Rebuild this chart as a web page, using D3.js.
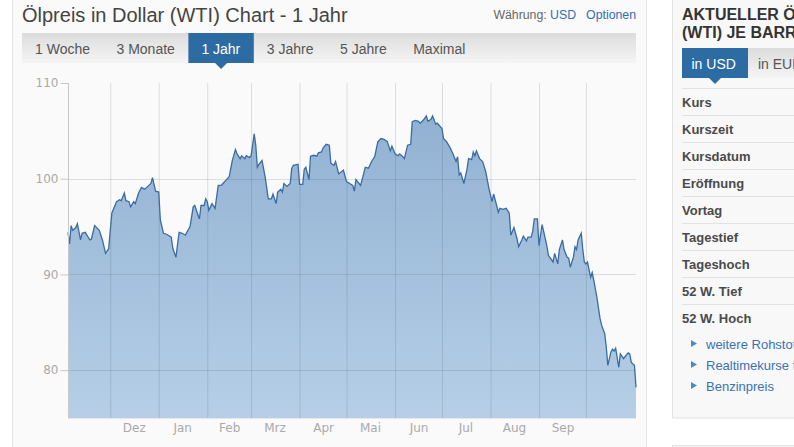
<!DOCTYPE html>
<html><head><meta charset="utf-8">
<script src="https://cdn.jsdelivr.net/npm/d3@7"></script>
<style>body{margin:0;background:#fff;overflow:hidden}svg{display:block}</style>
</head><body><svg id="c" width="794" height="447"></svg>
<script>
const dates = ["2013-11-04","2013-11-05","2013-11-06","2013-11-07","2013-11-09","2013-11-10","2013-11-12","2013-11-13","2013-11-15","2013-11-18","2013-11-19","2013-11-21","2013-11-24","2013-11-26","2013-11-28","2013-11-30",
"2013-12-02","2013-12-05","2013-12-07","2013-12-08","2013-12-10","2013-12-11","2013-12-13","2013-12-14","2013-12-16","2013-12-17","2013-12-19","2013-12-21","2013-12-23","2013-12-25","2013-12-27","2013-12-28","2013-12-30",
"2014-01-01","2014-01-02","2014-01-04","2014-01-06","2014-01-09","2014-01-10","2014-01-12","2014-01-14","2014-01-16","2014-01-18","2014-01-21","2014-01-23","2014-01-24","2014-01-27","2014-01-28","2014-01-30","2014-01-31",
"2014-02-01","2014-02-02","2014-02-04","2014-02-06","2014-02-08","2014-02-10","2014-02-11","2014-02-13","2014-02-15","2014-02-17","2014-02-19","2014-02-20","2014-02-22","2014-02-23","2014-02-25","2014-02-26","2014-02-28",
"2014-03-01","2014-03-03","2014-03-04","2014-03-05","2014-03-06","2014-03-08","2014-03-10","2014-03-12","2014-03-14","2014-03-15","2014-03-17","2014-03-18","2014-03-20","2014-03-21","2014-03-22","2014-03-24","2014-03-26","2014-03-27","2014-03-28","2014-03-31",
"2014-04-01","2014-04-03","2014-04-04","2014-04-05","2014-04-07","2014-04-08","2014-04-10","2014-04-12","2014-04-13","2014-04-15","2014-04-16","2014-04-18","2014-04-20","2014-04-21","2014-04-23","2014-04-24","2014-04-26","2014-04-29",
"2014-05-01","2014-05-03","2014-05-05","2014-05-06","2014-05-07","2014-05-09","2014-05-10","2014-05-13","2014-05-15","2014-05-17","2014-05-19","2014-05-21","2014-05-23","2014-05-25","2014-05-27","2014-05-29","2014-05-30",
"2014-06-01","2014-06-03","2014-06-04","2014-06-06","2014-06-07","2014-06-09","2014-06-11","2014-06-12","2014-06-14","2014-06-16","2014-06-17","2014-06-19","2014-06-21","2014-06-22","2014-06-24","2014-06-25","2014-06-27","2014-06-28",
"2014-07-01","2014-07-02","2014-07-04","2014-07-06","2014-07-08","2014-07-10","2014-07-11","2014-07-12","2014-07-13","2014-07-15","2014-07-17","2014-07-18","2014-07-20","2014-07-21","2014-07-22","2014-07-23","2014-07-25","2014-07-27","2014-07-29","2014-07-31",
"2014-08-02","2014-08-03","2014-08-04","2014-08-06","2014-08-07","2014-08-09","2014-08-11","2014-08-13","2014-08-14","2014-08-16","2014-08-18","2014-08-19","2014-08-21","2014-08-22","2014-08-24","2014-08-25","2014-08-27","2014-08-28","2014-08-29","2014-08-31",
"2014-09-01","2014-09-03","2014-09-06","2014-09-07","2014-09-10","2014-09-11","2014-09-13","2014-09-14","2014-09-16","2014-09-17","2014-09-19","2014-09-20","2014-09-21","2014-09-23","2014-09-24","2014-09-25","2014-09-26","2014-09-28","2014-09-29","2014-09-30",
"2014-10-01","2014-10-02","2014-10-04","2014-10-05","2014-10-06","2014-10-08","2014-10-10","2014-10-11","2014-10-13","2014-10-14","2014-10-15","2014-10-17","2014-10-18","2014-10-19","2014-10-20","2014-10-22","2014-10-23","2014-10-25","2014-10-26","2014-10-28","2014-10-29","2014-10-30",
"2014-11-01","2014-11-02"];
const prices = [94.4,93.2,95.1,94.6,94.9,95.3,93.6,94.3,94.4,93.6,93.7,95.1,94.6,93.6,92.2,92.7,
96.4,97.6,97.8,97.7,98.5,97.7,97.6,97.05,97.6,97.4,98.45,99.1,98.9,99.2,99.5,100.1,98.7,
98.6,95.7,94.3,94.2,93.9,92.7,91.8,94.4,94.3,94.1,95.0,97.05,97.2,95.8,97.2,97.2,97.9,
97.6,96.7,97.4,96.9,99.3,99.3,99.5,99.85,100.2,101.9,103.05,102.6,102.1,102.4,102.1,102.4,102.2,
102.4,104.7,103.5,101.2,101.5,101.9,100.2,97.9,97.9,98.4,97.4,98.6,98.9,98.6,99.5,99.2,99.5,101.1,101.4,101.5,
99.4,99.4,101.0,101.2,99.9,102.35,102.45,102.35,102.7,102.8,103.2,103.6,103.5,101.6,101.4,101.8,100.5,100.9,
99.7,99.5,99.3,98.7,99.9,99.5,99.3,101.2,101.1,101.8,102.3,103.85,104.2,104.1,103.9,102.9,103.4,
102.6,102.4,102.6,102.3,102.1,103.5,103.6,105.95,106.1,106.0,105.8,106.1,106.55,106.0,106.2,106.55,105.7,105.8,
105.25,104.2,103.85,103.3,102.6,101.8,102.3,100.4,100.6,99.5,101.0,102.1,102.0,102.8,102.4,102.9,102.1,101.8,100.7,99.0,
97.6,98.4,97.8,96.5,96.9,96.8,96.9,96.4,94.1,94.9,93.7,92.9,93.6,94.0,93.5,93.9,93.9,94.5,95.8,95.8,
93.0,95.2,93.0,92.0,91.3,92.2,91.1,92.6,93.6,92.6,91.8,91.7,90.75,91.8,92.9,92.6,93.6,94.3,92.6,91.3,
91.1,91.3,89.7,90.2,89.4,87.6,85.4,84.7,83.8,82.4,80.5,81.9,82.2,82.0,82.3,80.3,81.7,81.2,81.4,81.8,81.7,80.8,
80.5,78.2];
const monthStarts = ["2013-12-01","2014-01-01","2014-02-01","2014-03-01","2014-04-01","2014-05-01","2014-06-01","2014-07-01","2014-08-01","2014-09-01","2014-10-01"];
const monthLabels = ["Dez","Jan","Feb","Mrz","Apr","Mai","Jun","Jul","Aug","Sep"];
const monthLabelDates = ["2013-12-16","2014-01-16","2014-02-15","2014-03-16","2014-04-16","2014-05-16","2014-06-16","2014-07-16","2014-08-16","2014-09-16"];
const yTicks = [80, 90, 100, 110];
const yGridValues = [80, 90, 100];
const tabs = ["1 Woche","3 Monate","1 Jahr","3 Jahre","5 Jahre","Maximal"];
const activeTab = "1 Jahr";
const infoRows = ["Kurs","Kurszeit","Kursdatum","Eröffnung","Vortag","Tagestief","Tageshoch","52 W. Tief","52 W. Hoch"];
const links = ["weitere Rohstoffe","Realtimekurse für Rohstoffe","Benzinpreis"];

const parse = d3.timeParse("%Y-%m-%d");
const data = dates.map((d, i) => ({date: parse(d), value: prices[i]}));
const svg = d3.select("#c");
const SANS = "'Liberation Sans', Arial, sans-serif";
const AX = "'DejaVu Sans', Verdana, sans-serif";

const defs = svg.append("defs");
const ag = defs.append("linearGradient").attr("id","ag").attr("gradientUnits","userSpaceOnUse")
  .attr("x1",0).attr("y1",83).attr("x2",0).attr("y2",418);
ag.append("stop").attr("offset",0).attr("stop-color","#8eaed0");
ag.append("stop").attr("offset",1).attr("stop-color","#b6cfe7");
const tg = defs.append("linearGradient").attr("id","tg").attr("x1",0).attr("y1",0).attr("x2",0).attr("y2",1);
tg.append("stop").attr("offset",0).attr("stop-color","#dcdcdc");
tg.append("stop").attr("offset",1).attr("stop-color","#f5f5f5");

// page panels
svg.append("rect").attr("x",12.5).attr("y",-1).attr("width",634).attr("height",449)
  .attr("fill","#fafafa").attr("stroke","#e6e6e6");

// title
svg.append("text").attr("x",22).attr("y",22).attr("font-family",SANS).attr("font-size",20)
  .attr("fill","#444").text("Ölpreis in Dollar (WTI) Chart - 1 Jahr");
const cur = svg.append("text").attr("x",636).attr("y",19).attr("text-anchor","end")
  .attr("font-family",SANS).attr("font-size",12.3);
cur.append("tspan").attr("fill","#666").text("Währung: ");
cur.append("tspan").attr("fill","#2f6fb5").text("USD");
cur.append("tspan").attr("fill","#2f6fb5").attr("dx",10).text("Optionen");

// tab bar
svg.append("rect").attr("x",22).attr("y",33).attr("width",614).attr("height",30).attr("fill","url(#tg)");
let tx = 22;
tabs.forEach(t => {
  const g = svg.append("g");
  const txt = g.append("text").attr("x",tx+13).attr("y",54).attr("font-family",SANS).attr("font-size",14)
    .attr("fill", t===activeTab ? "#fff" : "#555").text(t);
  const w = txt.node().getComputedTextLength() + 26.5;
  if (t === activeTab) {
    g.insert("rect","text").attr("x",tx).attr("y",33).attr("width",w).attr("height",30).attr("fill","#2d6ba3");
    g.insert("path","text").attr("d",`M${tx+w/2-6},63L${tx+w/2+6},63L${tx+w/2},69Z`).attr("fill","#2d6ba3");
  }
  tx += w;
});

// chart
const x = d3.scaleTime().domain([parse("2013-11-04"), parse("2014-11-02")]).range([68, 636]);
const y = d3.scaleLinear().domain([75, 110]).range([418, 83]);

const area = d3.area().x(d => x(d.date)).y0(y(75)).y1(d => y(d.value));
const line = d3.line().x(d => x(d.date)).y(d => y(d.value));
svg.append("path").datum(data).attr("d",area).attr("fill","url(#ag)");

svg.append("g").selectAll("line").data(monthStarts).join("line")
  .attr("x1",d=>x(parse(d))+0.5).attr("x2",d=>x(parse(d))+0.5).attr("y1",y(110)).attr("y2",y(75))
  .attr("stroke","rgba(60,60,60,0.15)");
svg.append("g").selectAll("line").data(yGridValues).join("line")
  .attr("x1",68).attr("x2",636).attr("y1",d=>Math.round(y(d))+0.5).attr("y2",d=>Math.round(y(d))+0.5)
  .attr("stroke","rgba(60,60,60,0.15)");

svg.append("path").datum(data).attr("d",line).attr("fill","none").attr("stroke","#3a6ca3").attr("stroke-width",1.3);

// y axis
const ya = svg.append("g").attr("transform","translate(68.5,0)")
  .call(d3.axisLeft(y).tickValues(yTicks).tickSize(8).tickPadding(2));
ya.select(".domain").attr("d",`M0,${y(110)}V${y(75)}`).attr("stroke","#c8c8c8");
ya.selectAll(".tick line").attr("stroke","#c8c8c8");
ya.selectAll(".tick text").attr("fill","#aaa").attr("font-family",AX).attr("font-size",12);

// x axis
const xa = svg.append("g").attr("transform","translate(0,418.5)")
  .call(d3.axisBottom(x).tickValues(monthLabelDates.map(parse)).tickSize(0).tickPadding(5)
    .tickFormat((d,i) => monthLabels[i]));
xa.select(".domain").attr("d","M68,0H636").attr("stroke","#e4e8ec");
xa.selectAll(".tick text").attr("fill","#aaa").attr("font-family",AX).attr("font-size",12);

// right panel
svg.append("rect").attr("x",672.5).attr("y",-1).attr("width",130).attr("height",419)
  .attr("fill","#f8f8f8").attr("stroke","#e2e2e2");
svg.append("rect").attr("x",672.5).attr("y",445.5).attr("width",130).attr("height",10)
  .attr("fill","#f8f8f8").attr("stroke","#e2e2e2");
svg.append("text").attr("x",682).attr("y",20).attr("font-family",SANS).attr("font-size",16).attr("font-weight","bold")
  .attr("fill","#333").text("AKTUELLER ÖLPREIS");
svg.append("text").attr("x",682).attr("y",38).attr("font-family",SANS).attr("font-size",16).attr("font-weight","bold")
  .attr("fill","#333").text("(WTI) JE BARREL");
svg.append("rect").attr("x",748).attr("y",48).attr("width",60).attr("height",30).attr("fill","url(#tg)");
svg.append("rect").attr("x",682).attr("y",48).attr("width",66).attr("height",30).attr("fill","#2d6ba3");
svg.append("path").attr("d","M709,78L721,78L715,84Z").attr("fill","#2d6ba3");
svg.append("text").attr("x",691.5).attr("y",68.5).attr("font-family",SANS).attr("font-size",14).attr("fill","#fff").text("in USD");
svg.append("text").attr("x",758).attr("y",68.5).attr("font-family",SANS).attr("font-size",14).attr("fill","#555").text("in EUR");

const rowG = svg.append("g");
rowG.selectAll("line").data(infoRows).join("line")
  .attr("x1",682).attr("x2",800).attr("y1",(d,i)=>88.5+i*27).attr("y2",(d,i)=>88.5+i*27).attr("stroke","#e2e2e2");
rowG.selectAll("text").data(infoRows).join("text")
  .attr("x",682).attr("y",(d,i)=>106.5+i*27).attr("font-family",SANS).attr("font-size",13).attr("font-weight","bold")
  .attr("fill","#4a4a4a").text(d=>d);

const linkG = svg.append("g");
links.forEach((l,i) => {
  const by = 349 + i*21;
  linkG.append("path").attr("d",`M691,${by-9}L697,${by-5.5}L691,${by-2}Z`).attr("fill","#4f88c6");
  linkG.append("text").attr("x",706).attr("y",by).attr("font-family",SANS).attr("font-size",13)
    .attr("fill","#3b72b3").text(l);
});
</script></body></html>
